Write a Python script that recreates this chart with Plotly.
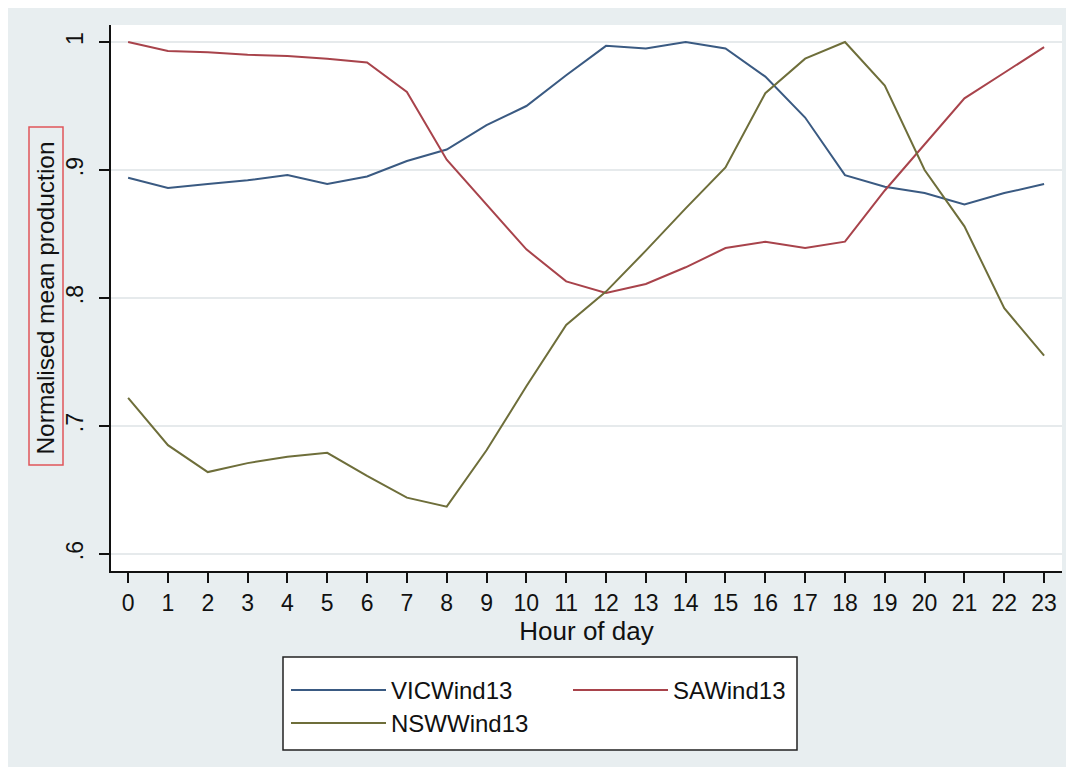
import plotly.graph_objects as go

hours = list(range(24))
vic = [0.894, 0.886, 0.889, 0.892, 0.896, 0.889, 0.895, 0.907, 0.916, 0.935, 0.950,
       0.974, 0.997, 0.995, 1.000, 0.995, 0.973, 0.941, 0.896, 0.887, 0.882, 0.873, 0.882, 0.889]
sa = [1.000, 0.993, 0.992, 0.990, 0.989, 0.987, 0.984, 0.961, 0.908, 0.873, 0.838,
      0.813, 0.804, 0.811, 0.824, 0.839, 0.844, 0.839, 0.844, 0.884, 0.920, 0.956, 0.976, 0.996]
nsw = [0.722, 0.685, 0.664, 0.671, 0.676, 0.679, 0.661, 0.644, 0.637, 0.681, 0.731,
       0.779, 0.805, 0.837, 0.870, 0.902, 0.960, 0.987, 1.000, 0.966, 0.900, 0.856, 0.792, 0.755]
series_names = ["VICWind13", "SAWind13", "NSWWind13"]
y_ticks = [0.6, 0.7, 0.8, 0.9, 1.0]
y_ticklabels = [".6", ".7", ".8", ".9", "1"]

colors = ["#3a5a82", "#a8434b", "#6e6e3a"]
FONT = "Liberation Sans, Arial, sans-serif"

# figure-pixel layout helpers (page is offset by the 8px body margin)
L, R, T, B = 103, 20, 17, 204
W, H = 1074, 767
PW, PH = W - L - R, H - T - B


def px(xp):
    return (xp - 8 - L) / PW


def py(yp):
    return (H - B - (yp - 8)) / PH


fig = go.Figure()
for name, vals, col, lg in zip(series_names, [vic, sa, nsw], colors, ["legend", "legend", "legend2"]):
    fig.add_trace(go.Scatter(x=hours, y=vals, mode="lines", name=name,
                             line=dict(color=col, width=2), legend=lg))

fig.update_layout(
    width=W, height=H,
    margin=dict(l=L, r=R, t=T, b=B),
    paper_bgcolor="#e8eef0",
    plot_bgcolor="#ffffff",
    font=dict(family=FONT, size=24, color="#111111"),
    xaxis=dict(range=[-0.43, 23.45], tickmode="array", tickvals=hours,
               ticktext=[str(h) for h in hours], ticks="outside", ticklen=10,
               tickwidth=1.5, tickcolor="#111111", showline=True, linecolor="#111111",
               linewidth=2, showgrid=False, zeroline=False,
               title=dict(text="Hour of day", standoff=6, font=dict(size=26)),
               tickfont=dict(size=23)),
    yaxis=dict(range=[0.5867, 1.0133], tickmode="array", tickvals=y_ticks,
               ticktext=y_ticklabels, tickangle=-90, ticks="outside", ticklen=10,
               tickwidth=1.5, tickcolor="#111111", showline=True, linecolor="#111111",
               linewidth=2, showgrid=True, gridcolor="#e6eaec", gridwidth=2,
               zeroline=False, ticklabelstandoff=7,
               title=dict(text="Normalised mean production", standoff=0, font=dict(size=24.5)),
               tickfont=dict(size=23)),
    legend=dict(orientation="h", x=px(286), xanchor="left",
                y=py(668), yanchor="top", bgcolor="rgba(0,0,0,0)",
                borderwidth=0, entrywidth=172, itemwidth=95,
                font=dict(size=24, color="#111111")),
    legend2=dict(orientation="h", x=px(286), xanchor="left",
                 y=py(701), yanchor="top", bgcolor="rgba(0,0,0,0)",
                 borderwidth=0, itemwidth=95,
                 font=dict(size=24, color="#111111")),
    showlegend=True,
)

# legend frame
fig.add_shape(type="rect", xref="paper", yref="paper",
              x0=px(283), x1=px(797), y0=py(750), y1=py(657),
              line=dict(color="#222222", width=1.5), fillcolor="#ffffff", layer="below")
# red highlight box around y-axis title
fig.add_shape(type="rect", xref="paper", yref="paper",
              x0=px(29), x1=px(63), y0=py(465), y1=py(127),
              line=dict(color="#e0555a", width=1.5), fillcolor="rgba(0,0,0,0)")

fig.write_html("out.html")
